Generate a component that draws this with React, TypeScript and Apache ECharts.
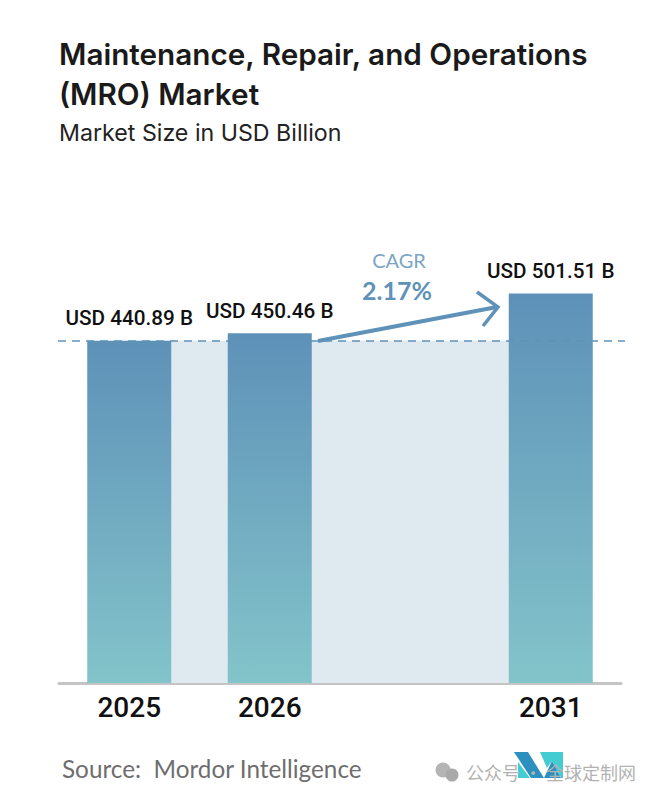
import React, { useEffect, useRef } from "react";
import * as echarts from "echarts";

const categories = ["2025", "2026", "", "2031"];
const values: (number | null)[] = [440.89, 450.46, null, 501.51];
const bandValues = [440.89, 440.89, 440.89, 440.89];
const labels = ["USD 440.89 B", "USD 450.46 B", "", "USD 501.51 B"];
const titleLines = ["Maintenance, Repair, and Operations", "(MRO) Market"];
const subtitle = "Market Size in USD Billion";
const source = "Source:  Mordor Intelligence";
const cagrLabel = "CAGR";
const cagrValue = "2.17%";
const watermark = "公众号 · 全球定制网";

const FONT = "Lato";
const HEAD = "Inter";
const NARROW = "Roboto";

export default function App() {
  const ref = useRef<HTMLDivElement>(null);
  useEffect(() => {
    const chart = echarts.init(ref.current!, null, { renderer: "svg" });
    chart.setOption({
      animation: false,
      backgroundColor: "#ffffff",
      textStyle: { fontFamily: FONT },
      grid: { left: 59, right: 35, top: 242, bottom: 117 },
      xAxis: {
        type: "category",
        data: categories,
        axisLine: { lineStyle: { color: "#c4c4c4", width: 3 } },
        axisTick: { show: false },
        axisLabel: { color: "#111111", fontSize: 28, fontFamily: NARROW, fontWeight: 500, margin: 10 },
      },
      yAxis: { type: "value", min: 0, max: 568, show: false, splitLine: { show: false } },
      series: [
        {
          type: "line",
          data: bandValues,
          symbol: "none",
          z: 1,
          lineStyle: { width: 0 },
          areaStyle: { color: "#dfe9f0", opacity: 1 },
          markLine: {
            silent: true,
            symbol: "none",
            label: { show: false },
            lineStyle: { color: "#5f92b8", type: [8, 6], width: 1.5 },
            z: 5,
            data: [[{ x: 58, yAxis: 440.89 }, { x: 625, yAxis: 440.89 }]],
          },
        },
        {
          type: "bar",
          data: values,
          barWidth: 84,
          z: 3,
          itemStyle: {
            color: new echarts.graphic.LinearGradient(0, 0, 0, 1, [
              { offset: 0, color: "#5e91b8" },
              { offset: 1, color: "#83c4ca" },
            ]),
          },
          label: {
            show: true,
            position: "top",
            distance: 12,
            color: "#111111",
            fontSize: 20.7,
            fontFamily: NARROW,
            fontWeight: 500,
            formatter: (p: any) => labels[p.dataIndex],
          },
        },
      ],
      graphic: [
        { type: "text", x: 59, y: 34, style: { text: titleLines.join("\n"), fill: "#1a1a1a", font: `600 29.7px ${HEAD}`, lineHeight: 40 } },
        { type: "text", x: 59, y: 121, style: { text: subtitle, fill: "#222222", font: `400 23.2px ${HEAD}` } },
        { type: "text", x: 399, y: 250, style: { text: cagrLabel, fill: "#7aa5c6", font: `400 20px ${FONT}`, textAlign: "center" } },
        { type: "text", x: 397, y: 277, style: { text: cagrValue, fill: "#5f92b8", font: `700 25px ${FONT}`, textAlign: "center" } },
        {
          type: "polyline", z: 6,
          shape: { points: [[318, 341], [497, 307]] },
          style: { stroke: "#5f92b8", lineWidth: 4, fill: "none" },
        },
        {
          type: "polyline", z: 6,
          shape: { points: [[477, 292], [498, 307], [483, 326]] },
          style: { stroke: "#5f92b8", lineWidth: 3.5, fill: "none" },
        },
        { type: "text", x: 62, y: 756, style: { text: source, fill: "#6e6e6e", font: `400 24.3px ${FONT}` } },
        { type: "polygon", shape: { points: [[518, 762], [530, 778], [518, 778]] }, style: { fill: "#43cdd3" } },
        { type: "polygon", shape: { points: [[514, 752], [528, 752], [544, 778], [531, 778]] }, style: { fill: "#2b8fc0" } },
        { type: "polygon", shape: { points: [[540, 752], [563, 752], [563, 778], [561, 778], [552, 761], [547, 768]] }, style: { fill: "#43cdd3" } },
        { type: "polygon", shape: { points: [[552, 761], [561, 778], [544, 778]] }, style: { fill: "#2b8fc0" } },
        { type: "circle", shape: { cx: 443, cy: 770, r: 7.5 }, style: { fill: "#b5b5b5" } },
        { type: "circle", shape: { cx: 452, cy: 775, r: 6.5 }, style: { fill: "#a9a9a9" } },
        { type: "text", x: 466, y: 763, style: { text: watermark, fill: "#b2b2b2", font: `400 18px "Noto Sans CJK SC"` } },
      ],
    });
    return () => chart.dispose();
  }, []);
  return <div ref={ref} style={{ width: 656, height: 800, position: "absolute", left: 0, top: 0 }} />;
}
